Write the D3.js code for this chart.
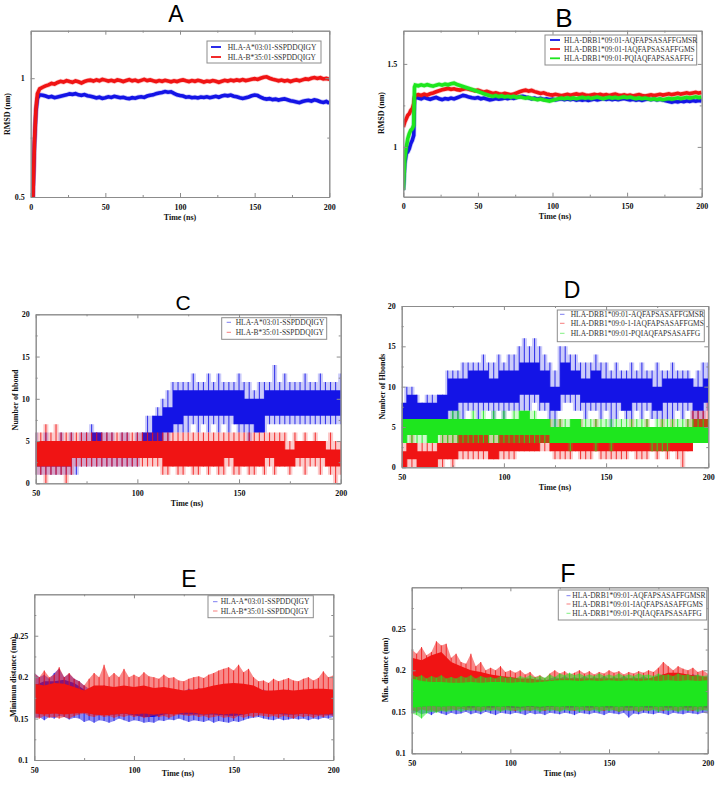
<!DOCTYPE html>
<html><head><meta charset="utf-8">
<script src="https://cdn.jsdelivr.net/npm/d3@7"></script>
<style>body{margin:0;background:#fff}svg{display:block}</style>
</head><body>
<svg id="c" width="717" height="786"></svg>
<script>
// ---------------- DATA ----------------
const panelTitles = ["A","B","C","D","E","F"];
const legendAE = ["HLA-A*03:01-SSPDDQIGY","HLA-B*35:01-SSPDDQIGY"];
const legendB = ["HLA-DRB1*09:01-AQFAPSASAFFGMSR","HLA-DRB1*09:01-IAQFAPSASAFFGMS","HLA-DRB1*09:01-PQIAQFAPSASAFFG"];
const legendD = ["HLA-DRB1*09:01-AQFAPSASAFFGMSR","HLA-DRB1*09:0-1-IAQFAPSASAFFGMS","HLA-DRB1*09:01-PQIAQFAPSASAFFG"];
const xLabel = "Time (ns)";
const yLabels = ["RMSD (nm)","RMSD (nm)","Number of hbond","Number of Hbonds","Minimun distance (nm)","Min. distance (nm)"];

const xTicksAB = [0,50,100,150,200], xMinorAB = [25,75,125,175];
const xTicksCF = [50,100,150,200], xMinorCF = [75,125,175];
const yTicksA = [0.5,1], yMinorA = [0.75];
const yTicksB = [1,1.5], yMinorB = [0.75,1.25];
const yTicksCD = [0,5,10,15,20], yMinorCD = [2.5,7.5,12.5,17.5];
const yTicksEF = [0.1,0.15,0.2,0.25], yMinorEF = [0.125,0.175,0.225,0.275];

// Panel A: RMSD (time ns)
const tA = [1.5,2.5,3.5,4.5,6,8,10,12,14,16,18,20,22,24,26,28,30,32,34,36,38,40,42,44,46,48,50,52,54,56,58,60,62,64,66,68,70,72,74,76,78,80,82,84,86,88,90,92,94,96,98,100,102,104,106,108,110,112,114,116,118,120,122,124,126,128,130,132,134,136,138,140,142,144,146,148,150,152,154,156,158,160,162,164,166,168,170,172,174,176,178,180,182,184,186,188,190,192,194,196,198,200];
const blueA = [0.5,0.72,0.86,0.915,
 .93,.928,.925,.92,.923,.918,.921,.924,.927,.93,
 .934,.932,.935,.93,.928,.931,.926,.924,.921,.917,
 .92,.915,.918,.922,.919,.924,.921,.918,.92,.916,
 .914,.918,.916,.92,.922,.919,.925,.928,.93,.935,
 .938,.94,.944,.941,.943,.936,.93,.927,.925,.92,
 .922,.918,.92,.917,.921,.919,.922,.918,.921,.924,
 .92,.925,.928,.926,.929,.924,.922,.918,.915,.918,
 .921,.926,.929,.927,.92,.915,.912,.914,.91,.912,
 .908,.911,.913,.909,.905,.903,.9,.897,.902,.905,
 .907,.904,.909,.906,.901,.898,.902,.895];
const redA = [0.5,0.73,0.87,0.935,
 .955,.962,.968,.972,.978,.975,.982,.987,.984,.99,
 .986,.983,.989,.985,.98,.986,.99,.992,.988,.993,
 .989,.995,.992,.988,.991,.987,.993,.99,.986,.99,
 .994,.989,.992,.987,.991,.995,.99,.993,.989,.986,
 .99,.987,.991,.988,.985,.989,.986,.99,.993,.989,
 .986,.99,.987,.991,.988,.984,.988,.986,.99,.987,
 .983,.987,.991,.988,.992,.989,.993,.99,.994,.99,
 .993,.996,.998,.995,1.0,1.004,1.006,1.0,.996,.993,
 .989,.992,.988,.991,.986,.99,.993,.989,.993,.997,
 .995,1.0,1.003,.999,1.002,.997,.999,.996];

// Panel B: RMSD
const tB = [0,1,2,3,4,5,6,7,7.5,8,10,12,14,16,18,20,22,24,26,28,30,32,34,36,38,40,42,44,46,48,50,52,54,56,58,60,62,64,66,68,70,72,74,76,78,80,82,84,86,88,90,92,94,96,98,100,102,104,106,108,110,112,114,116,118,120,122,124,126,128,130,132,134,136,138,140,142,144,146,148,150,152,154,156,158,160,162,164,166,168,170,172,174,176,178,180,182,184,186,188,190,192,194,196,198,200];
const blueB = [.74,.9,.96,.97,.99,1.02,1.04,1.07,1.29,
 1.3,1.295,1.29,1.298,1.292,1.287,1.293,1.298,1.29,1.285,
 1.291,1.288,1.294,1.289,1.296,1.303,1.31,1.306,1.3,1.296,
 1.293,1.297,1.29,1.294,1.288,1.283,1.287,1.292,1.288,1.29,
 1.295,1.291,1.296,1.292,1.298,1.302,1.305,1.3,1.296,1.29,
 1.294,1.288,1.292,1.286,1.29,1.284,1.288,1.283,1.287,1.29,
 1.285,1.289,1.284,1.288,1.282,1.286,1.281,1.285,1.28,1.284,
 1.288,1.283,1.287,1.291,1.286,1.29,1.285,1.289,1.284,1.288,
 1.292,1.287,1.283,1.287,1.282,1.286,1.28,1.285,1.289,1.284,
 1.288,1.283,1.287,1.282,1.278,1.274,1.27,1.275,1.271,1.276,
 1.272,1.278,1.274,1.279,1.275,1.28,1.277];
const redB = [1.12,1.15,1.17,1.19,1.2,1.22,1.23,1.26,1.3,
 1.31,1.315,1.31,1.318,1.312,1.32,1.325,1.332,1.338,1.344,
 1.348,1.352,1.347,1.35,1.345,1.342,1.348,1.352,1.347,1.343,
 1.338,1.342,1.336,1.33,1.334,1.328,1.322,1.326,1.32,1.317,
 1.322,1.318,1.314,1.318,1.325,1.332,1.338,1.342,1.336,1.34,
 1.333,1.328,1.322,1.326,1.319,1.315,1.312,1.317,1.313,1.308,
 1.312,1.316,1.311,1.315,1.319,1.314,1.318,1.313,1.309,1.313,
 1.317,1.312,1.316,1.311,1.315,1.31,1.314,1.318,1.313,1.309,
 1.313,1.308,1.312,1.307,1.311,1.315,1.31,1.306,1.31,1.314,
 1.309,1.313,1.317,1.312,1.316,1.32,1.315,1.319,1.323,1.318,
 1.322,1.326,1.321,1.325,1.329,1.324,1.328];
const greenB = [.74,.93,1.0,1.05,1.08,1.1,1.11,1.13,1.36,
 1.372,1.368,1.374,1.369,1.375,1.37,1.366,1.372,1.377,1.372,
 1.378,1.374,1.38,1.384,1.376,1.37,1.364,1.358,1.352,1.346,
 1.34,1.334,1.327,1.32,1.314,1.308,1.304,1.309,1.303,1.307,
 1.301,1.305,1.3,1.304,1.298,1.302,1.297,1.293,1.297,1.291,
 1.288,1.284,1.288,1.283,1.279,1.276,1.281,1.286,1.29,1.294,
 1.29,1.295,1.291,1.295,1.29,1.294,1.298,1.293,1.297,1.292,
 1.296,1.3,1.295,1.291,1.295,1.299,1.294,1.298,1.293,1.297,
 1.301,1.296,1.3,1.295,1.291,1.295,1.29,1.294,1.29,1.286,
 1.29,1.285,1.289,1.284,1.288,1.292,1.288,1.292,1.296,1.291,
 1.295,1.299,1.294,1.298,1.302,1.297,1.3];

// Panels C-F: [low, high] of the dense band (core, every 5 ns) and of the outer spikes (every 2.5 ns)
const tCore = [50,55,60,65,70,75,80,85,90,95,100,105,110,115,120,125,130,135,140,145,150,155,160,165,170,175,180,185,190,195,200];
const tSpike = [50,52.5,55,57.5,60,62.5,65,67.5,70,72.5,75,77.5,80,82.5,85,87.5,90,92.5,95,97.5,100,102.5,105,107.5,110,112.5,115,117.5,120,122.5,125,127.5,130,132.5,135,137.5,140,142.5,145,147.5,150,152.5,155,157.5,160,162.5,165,167.5,170,172.5,175,177.5,180,182.5,185,187.5,190,192.5,195,197.5,200];

// C: H-bonds
const cBlueCore = [[2,5],[2,5],[2,4],[2,4],[3,5],[3,5],[3,6],[3,5],[3,5],[3,5],[3,5],
 [4,6],[5,8],[6,9],[7,11],[8,11],[8,11],[8,11],[8,11],[8,11],[7,11],
 [7,10],[6,10],[8,11],[8,11],[8,11],[8,11],[8,11],[8,11],[8,11],[8,11]];
const cBlueSpike = [[1,6],[1,5],[1,6],[1,5],[1,5],[1,6],[1,5],[1,6],[1,5],[2,6],
 [2,6],[2,7],[2,6],[2,6],[2,6],[2,6],[2,5],[2,6],[2,6],[2,5],
 [2,6],[3,6],[3,8],[4,8],[4,9],[5,10],[5,11],[6,12],[6,12],[6,12],
 [6,12],[7,13],[6,12],[7,12],[6,13],[7,12],[6,13],[7,12],[6,12],[7,12],
 [6,13],[6,12],[5,12],[6,11],[6,12],[6,12],[7,12],[7,14],[7,12],[7,13],
 [7,12],[7,12],[7,12],[7,13],[7,12],[7,12],[7,13],[7,12],[7,12],[7,12],
 [7,13]];
const cRedCore = [[2,5],[2,5],[2,5],[2,5],[3,5],[3,5],[3,5],[3,5],[3,5],[3,5],[3,5],
 [3,5],[3,5],[2,5],[2,5],[2,5],[2,5],[2,5],[2,5],[3,5],[2,5],
 [2,5],[2,5],[3,5],[2,5],[2,4],[3,5],[3,5],[3,5],[2,4],[2,4]];
const cRedSpike = [[1,6],[1,6],[0,7],[1,6],[1,7],[1,6],[0,6],[1,6],[2,6],[2,6],
 [2,6],[2,6],[2,6],[2,6],[2,6],[2,6],[2,6],[2,6],[2,6],[2,6],
 [2,6],[2,6],[2,6],[2,6],[2,6],[1,6],[1,6],[2,6],[1,6],[1,6],
 [2,6],[1,6],[1,6],[2,6],[1,6],[2,6],[1,6],[1,6],[2,6],[1,6],
 [1,6],[2,6],[1,6],[1,6],[2,6],[1,6],[2,6],[1,6],[2,6],[2,6],
 [1,5],[2,6],[2,5],[1,6],[2,5],[2,6],[1,5],[2,5],[1,6],[0,5],
 [1,5]];

// D: H-bonds
const dBlueCore = [[6,8],[6,9],[6,8],[6,8],[6,9],[7,11],[8,11],[8,12],[8,12],[8,11],[8,12],
 [8,12],[9,13],[9,13],[8,12],[7,10],[9,13],[9,12],[8,11],[8,12],[8,11],
 [8,11],[7,11],[8,11],[8,11],[7,10],[8,11],[8,11],[8,11],[7,10],[8,11]];
const dBlueSpike = [[3,8],[4,10],[5,10],[5,9],[4,8],[5,9],[4,9],[5,9],[4,9],[5,12],
 [6,12],[6,12],[6,13],[7,13],[7,13],[6,13],[7,14],[7,13],[6,13],[7,14],
 [6,13],[7,14],[7,14],[7,15],[7,16],[7,15],[8,16],[7,15],[7,14],[6,13],
 [5,12],[7,15],[8,15],[8,14],[7,14],[7,13],[6,13],[7,13],[7,14],[6,13],
 [7,13],[5,12],[6,13],[7,12],[6,12],[6,13],[7,12],[6,13],[7,12],[6,12],
 [6,13],[6,12],[6,12],[6,13],[7,12],[6,12],[7,12],[6,11],[6,12],[6,13],
 [7,13]];
const dRedCore = [[0,2],[1,3],[0,2],[0,2],[1,3],[1,3],[2,4],[2,4],[2,4],[1,3],[2,4],
 [2,4],[2,4],[2,5],[3,5],[2,4],[2,4],[2,4],[2,4],[2,4],[2,4],
 [2,4],[2,4],[2,4],[2,4],[2,4],[2,4],[2,4],[2,5],[4,6],[4,6]];
const dRedSpike = [[0,3],[0,3],[0,4],[0,3],[0,3],[0,3],[0,3],[0,3],[0,4],[1,4],
 [0,4],[1,5],[1,5],[1,5],[1,5],[1,5],[1,5],[1,5],[1,5],[1,5],
 [1,5],[1,6],[1,6],[2,6],[2,6],[2,6],[2,6],[2,6],[2,6],[2,6],
 [1,5],[1,6],[1,5],[1,5],[2,5],[1,6],[1,5],[1,5],[2,6],[1,5],
 [1,5],[1,5],[1,5],[1,5],[1,5],[2,6],[1,5],[1,5],[1,6],[2,5],
 [1,5],[2,6],[1,5],[2,6],[1,5],[0,5],[2,6],[3,7],[4,7],[4,7],
 [4,8]];
const dGreenCore = [[3,6],[4,6],[4,6],[3,6],[4,6],[4,6],[4,6],[4,6],[4,6],[4,6],[4,6],
 [4,6],[4,7],[4,6],[4,6],[3,5],[3,5],[3,6],[3,5],[3,5],[3,5],
 [3,5],[3,5],[3,5],[3,5],[3,5],[3,5],[3,5],[3,5],[3,5],[3,5]];
const dGreenSpike = [[3,6],[3,6],[3,6],[3,6],[3,6],[3,6],[3,6],[3,6],[3,6],[3,6],
 [3,7],[3,7],[3,6],[3,6],[3,7],[3,6],[3,7],[3,6],[3,7],[3,6],
 [3,7],[3,6],[3,7],[3,7],[3,7],[3,7],[3,7],[3,6],[3,6],[3,6],
 [3,6],[3,6],[3,6],[2,6],[3,6],[3,6],[3,6],[3,6],[2,6],[3,6],
 [3,6],[2,6],[3,6],[3,6],[3,6],[3,6],[3,6],[3,6],[3,6],[2,5],
 [2,6],[2,6],[2,6],[3,6],[3,6],[3,6],[3,6],[3,6],[3,6],[3,6],
 [3,6]];

// E: minimum distance
const eBlueCore = [[.158,.19],[.16,.195],[.16,.195],[.162,.197],[.16,.193],[.158,.185],[.155,.18],[.155,.18],[.155,.182],[.156,.18],[.154,.18],
 [.152,.18],[.152,.178],[.155,.18],[.156,.178],[.155,.176],[.155,.178],[.155,.18],[.155,.182],[.154,.182],[.153,.18],
 [.155,.182],[.158,.18],[.158,.178],[.156,.176],[.155,.178],[.155,.178],[.156,.178],[.155,.178],[.155,.176],[.155,.177]];
const eBlueSpike = [[.15,.205],[.152,.2],[.148,.203],[.152,.198],[.15,.205],[.153,.21],[.152,.2],[.149,.204],[.151,.198],[.15,.195],
 [.146,.19],[.148,.186],[.145,.188],[.148,.185],[.147,.19],[.145,.186],[.147,.188],[.15,.184],[.148,.187],[.146,.185],
 [.148,.188],[.147,.184],[.145,.186],[.146,.183],[.145,.185],[.148,.182],[.147,.185],[.149,.183],[.148,.184],[.15,.181],
 [.148,.183],[.146,.186],[.148,.184],[.147,.187],[.146,.185],[.148,.188],[.145,.186],[.147,.189],[.146,.187],[.145,.19],
 [.147,.188],[.146,.186],[.148,.19],[.15,.187],[.151,.185],[.152,.183],[.15,.185],[.149,.182],[.148,.184],[.15,.181],
 [.148,.183],[.149,.185],[.15,.182],[.149,.184],[.15,.181],[.148,.183],[.15,.182],[.149,.185],[.151,.182],[.15,.184],
 [.152,.183]];
const eRedCore = [[.156,.192],[.155,.19],[.156,.193],[.155,.192],[.156,.188],[.157,.184],[.155,.19],[.154,.19],[.155,.188],[.156,.19],[.155,.188],
 [.156,.19],[.155,.187],[.156,.188],[.155,.186],[.157,.184],[.157,.185],[.155,.187],[.156,.19],[.155,.192],[.156,.193],
 [.155,.192],[.157,.19],[.156,.184],[.155,.184],[.156,.185],[.155,.184],[.156,.185],[.155,.186],[.155,.186],[.156,.185]];
const eRedSpike = [[.152,.205],[.15,.2],[.153,.208],[.151,.2],[.152,.203],[.15,.212],[.152,.2],[.15,.205],[.153,.198],[.155,.195],
 [.156,.19],[.153,.198],[.152,.205],[.154,.2],[.152,.215],[.153,.2],[.151,.205],[.153,.2],[.152,.21],[.154,.2],
 [.152,.203],[.153,.2],[.151,.206],[.152,.201],[.154,.2],[.152,.198],[.153,.203],[.151,.199],[.153,.2],[.155,.196],
 [.154,.195],[.153,.198],[.154,.2],[.152,.201],[.153,.199],[.151,.203],[.152,.205],[.153,.208],[.151,.21],[.152,.212],
 [.15,.208],[.153,.215],[.151,.206],[.153,.21],[.152,.2],[.154,.195],[.153,.196],[.152,.193],[.153,.198],[.151,.195],
 [.153,.197],[.152,.199],[.15,.196],[.153,.195],[.152,.198],[.153,.2],[.151,.196],[.153,.199],[.152,.207],[.154,.2],
 [.153,.202]];

// F: minimum distance
const fBlueCore = [[.157,.185],[.156,.184],[.157,.185],[.156,.183],[.157,.184],[.156,.183],[.155,.182],[.156,.183],[.155,.182],[.156,.183],[.155,.182],
 [.155,.181],[.156,.182],[.155,.181],[.156,.183],[.156,.182],[.155,.183],[.156,.182],[.155,.183],[.156,.182],[.155,.183],
 [.156,.182],[.155,.183],[.156,.184],[.155,.183],[.156,.184],[.155,.185],[.156,.184],[.155,.185],[.156,.184],[.155,.184]];
const fBlueSpike = [[.148,.19],[.15,.188],[.147,.19],[.149,.187],[.146,.19],[.15,.188],[.148,.19],[.146,.187],[.149,.189],[.147,.186],
 [.148,.188],[.15,.186],[.147,.189],[.149,.187],[.147,.188],[.15,.186],[.148,.189],[.146,.187],[.149,.19],[.148,.188],
 [.147,.19],[.149,.187],[.148,.189],[.146,.187],[.149,.19],[.147,.188],[.148,.19],[.146,.187],[.149,.19],[.148,.192],
 [.147,.19],[.149,.193],[.148,.19],[.146,.192],[.149,.19],[.148,.193],[.147,.19],[.149,.192],[.148,.19],[.146,.193],
 [.149,.19],[.148,.192],[.147,.19],[.149,.193],[.143,.19],[.148,.192],[.147,.19],[.149,.193],[.148,.19],[.147,.192],
 [.149,.194],[.148,.195],[.146,.193],[.149,.196],[.148,.194],[.147,.195],[.149,.193],[.148,.195],[.147,.194],[.149,.192],
 [.148,.193]];
const fRedCore = [[.165,.215],[.166,.212],[.165,.218],[.167,.222],[.165,.21],[.164,.205],[.165,.2],[.164,.198],[.163,.195],[.164,.193],[.163,.192],
 [.162,.19],[.163,.19],[.162,.188],[.162,.188],[.163,.19],[.162,.19],[.163,.19],[.162,.19],[.163,.19],[.162,.19],
 [.163,.19],[.162,.19],[.163,.19],[.162,.19],[.163,.193],[.164,.197],[.164,.197],[.163,.195],[.163,.193],[.162,.192]];
const fRedSpike = [[.152,.225],[.15,.22],[.153,.228],[.151,.218],[.152,.222],[.15,.235],[.152,.23],[.151,.232],[.153,.215],[.152,.22],
 [.154,.21],[.152,.208],[.153,.22],[.152,.205],[.151,.21],[.153,.2],[.152,.203],[.153,.2],[.151,.205],[.153,.198],
 [.152,.2],[.151,.197],[.153,.2],[.152,.195],[.151,.198],[.153,.192],[.152,.194],[.151,.19],[.153,.196],[.152,.2],
 [.151,.196],[.153,.199],[.152,.195],[.151,.197],[.153,.2],[.152,.196],[.151,.199],[.153,.195],[.152,.198],[.151,.196],
 [.153,.2],[.152,.197],[.15,.199],[.152,.195],[.151,.198],[.152,.196],[.15,.199],[.152,.197],[.151,.2],[.153,.198],
 [.152,.203],[.151,.21],[.153,.205],[.152,.2],[.151,.205],[.153,.202],[.152,.2],[.151,.203],[.153,.198],[.152,.2],
 [.153,.196]];
const fGreenCore = [[.155,.19],[.156,.187],[.157,.186],[.156,.186],[.157,.185],[.156,.185],[.157,.186],[.156,.185],[.157,.186],[.156,.186],[.157,.185],
 [.156,.186],[.157,.185],[.156,.186],[.157,.187],[.156,.188],[.157,.188],[.156,.187],[.157,.188],[.156,.187],[.157,.188],
 [.156,.187],[.157,.188],[.156,.187],[.157,.188],[.156,.187],[.157,.188],[.156,.187],[.157,.188],[.156,.187],[.157,.188]];
const fGreenSpike = [[.148,.195],[.146,.192],[.142,.194],[.148,.19],[.15,.193],[.149,.191],[.151,.194],[.15,.19],[.151,.192],[.152,.19],
 [.15,.193],[.152,.191],[.151,.194],[.152,.19],[.15,.193],[.152,.191],[.151,.192],[.152,.19],[.15,.193],[.152,.191],
 [.151,.192],[.152,.19],[.15,.193],[.152,.191],[.151,.194],[.152,.191],[.15,.193],[.152,.191],[.151,.195],[.152,.192],
 [.15,.196],[.152,.194],[.151,.197],[.152,.194],[.15,.196],[.152,.193],[.151,.195],[.152,.193],[.15,.196],[.152,.193],
 [.151,.195],[.152,.193],[.15,.196],[.152,.193],[.151,.195],[.152,.193],[.15,.196],[.152,.194],[.151,.195],[.152,.193],
 [.15,.196],[.152,.194],[.151,.195],[.152,.193],[.15,.196],[.152,.194],[.151,.195],[.152,.193],[.15,.195],[.152,.193],
 [.151,.194]];

// ---------------- STYLE / LAYOUT ----------------
const BLUE = "#1414e6", RED = "#f01414", GREEN = "#1ee61e";
const FRAME = "#8c8c8c";
const serif = "'Liberation Serif','Times New Roman',serif";
const sans = "'Liberation Sans',Arial,sans-serif";

const panels = [
 {title:panelTitles[0], tx:176, ty:21.5, ts:23, x0:30.7,x1:329.3,y0:30.7,y1:197, xd:[0,200], yd:[0.5,1.2],
  xt:xTicksAB, xm:xMinorAB, yt:yTicksA, ym:yMinorA, ylab:yLabels[0], xlx:180, xly:220, ylx:10, yly:114,
  kind:"line", series:[{t:tA,v:blueA,c:BLUE},{t:tA,v:redA,c:RED}],
  leg:{box:[207,41,114,22], ys:[47,57], sx:[211,221], tx:227.7, names:legendAE, cols:[BLUE,RED], bold:true}},
 {title:panelTitles[1], tx:564, ty:26.5, ts:26, x0:403.3,x1:701.7,y0:30.7,y1:196.7, xd:[0,200], yd:[0.7,1.7],
  xt:xTicksAB, xm:xMinorAB, yt:yTicksB, ym:yMinorB, ylab:yLabels[1], xlx:555, xly:219, ylx:383.5, yly:113,
  kind:"line", series:[{t:tB,v:blueB,c:BLUE},{t:tB,v:redB,c:RED},{t:tB,v:greenB,c:GREEN}],
  leg:{box:[545,35,151.7,30], ys:[40,49,58.3], sx:[550,560], tx:564, names:legendB, cols:[BLUE,RED,GREEN], bold:true}},
 {title:panelTitles[2], tx:183, ty:310, ts:21, x0:35.7,x1:340.7,y0:314.3,y1:483.3, xd:[50,200], yd:[0,20],
  xt:xTicksCF, xm:xMinorCF, yt:yTicksCD, ym:yMinorCD, ylab:yLabels[2], xlx:187, xly:505.5, ylx:17.8, yly:400,
  kind:"band", step:true, series:[{core:cBlueCore,spike:cBlueSpike,c:BLUE},{core:cRedCore,spike:cRedSpike,c:RED}],
  leg:{box:[221.7,317.7,105,21.6], ys:[322.3,332.3], sx:[226.7,231], tx:235.7, names:legendAE, cols:[BLUE,RED], bold:false}},
 {title:panelTitles[3], tx:572, ty:298, ts:23, x0:401.7,x1:708.3,y0:306,y1:467.3, xd:[50,200], yd:[0,20],
  xt:xTicksCF, xm:xMinorCF, yt:yTicksCD, ym:yMinorCD, ylab:yLabels[3], xlx:555, xly:489.5, ylx:384.5, yly:386.7,
  kind:"band", step:true, series:[{core:dBlueCore,spike:dBlueSpike,c:BLUE},{core:dRedCore,spike:dRedSpike,c:RED},{core:dGreenCore,spike:dGreenSpike,c:GREEN}],
  leg:{box:[557.3,310,147,31.7], ys:[314.3,323.3,333.3], sx:[560,564.5], tx:570.7, names:legendD, cols:[BLUE,RED,GREEN], bold:false}},
 {title:panelTitles[4], tx:189, ty:587, ts:23, x0:34.3,x1:333.3,y0:594.3,y1:760, xd:[50,200], yd:[0.1,0.3],
  xt:xTicksCF, xm:xMinorCF, yt:yTicksEF, ym:yMinorEF, ylab:yLabels[4], xlx:178, xly:776, ylx:16, yly:676.7,
  kind:"band", step:false, series:[{core:eBlueCore,spike:eBlueSpike,c:BLUE},{core:eRedCore,spike:eRedSpike,c:RED}],
  leg:{box:[208,595.7,105.3,22], ys:[601.7,611], sx:[213,217.5], tx:220.7, names:legendAE, cols:[BLUE,RED], bold:false}},
 {title:panelTitles[5], tx:568, ty:581.5, ts:25, x0:411.7,x1:707.7,y0:587.3,y1:753.3, xd:[50,200], yd:[0.1,0.3],
  xt:xTicksCF, xm:xMinorCF, yt:yTicksEF, ym:yMinorEF, ylab:yLabels[5], xlx:560, xly:775.5, ylx:387.8, yly:670,
  kind:"band", step:false, series:[{core:fBlueCore,spike:fBlueSpike,c:BLUE},{core:fRedCore,spike:fRedSpike,c:RED},{core:fGreenCore,spike:fGreenSpike,c:GREEN}],
  leg:{box:[558.3,590,148.4,30], ys:[595.7,604,613.3], sx:[566.5,570.5], tx:572.3, names:legendB, cols:[BLUE,RED,GREEN], bold:false}}
];

// ---------------- DRAW ----------------
const svg = d3.select("#c");
svg.append("rect").attr("width",717).attr("height",786).attr("fill","#fff");

panels.forEach((p, pi) => {
  const x = d3.scaleLinear().domain(p.xd).range([p.x0, p.x1]);
  const y = d3.scaleLinear().domain(p.yd).range([p.y1, p.y0]);
  const g = svg.append("g");
  const cid = "clip" + pi;
  svg.append("clipPath").attr("id", cid).append("rect")
    .attr("x", p.x0).attr("y", p.y0).attr("width", p.x1 - p.x0).attr("height", p.y1 - p.y0);
  const dg = g.append("g").attr("clip-path", `url(#${cid})`);

  if (p.kind === "line") {
    p.series.forEach(s => {
      const line = d3.line().defined(d => d != null).x((d, i) => x(s.t[i])).y(d => y(d));
      dg.append("path").datum(s.v).attr("d", line).attr("fill", "none")
        .attr("stroke", s.c).attr("stroke-width", 3.6).attr("stroke-linejoin", "miter");
      dg.append("path").datum(s.v).attr("d", line).attr("fill", "none")
        .attr("stroke", s.c).attr("stroke-width", 5).attr("stroke-opacity", 0.25);
    });
  } else {
    const curve = p.step ? d3.curveStep : d3.curveLinear;
    const areaOp = p.step ? 0.22 : 0.5;
    const lineOp = p.step ? 0.8 : 0.9;
    const lineW = p.step ? 1.1 : 0.9;
    p.series.forEach(s => {
      const sg = dg.append("g");
      const aS = d3.area().x((d, i) => x(tSpike[i])).y0(d => y(d[0])).y1(d => y(d[1])).curve(curve);
      sg.append("path").datum(s.spike).attr("d", aS).attr("fill", s.c).attr("fill-opacity", areaOp);
      // individual spikes drawn as thin vertical strokes
      sg.selectAll("line.sp").data(s.spike).join("line").attr("class", "sp")
        .attr("x1", (d, i) => x(tSpike[i])).attr("x2", (d, i) => x(tSpike[i]))
        .attr("y1", d => y(d[0])).attr("y2", d => y(d[1]))
        .attr("stroke", s.c).attr("stroke-width", lineW).attr("stroke-opacity", lineOp);
      const aC = d3.area().x((d, i) => x(tCore[i])).y0(d => y(d[0])).y1(d => y(d[1])).curve(curve);
      sg.append("path").datum(s.core).attr("d", aC).attr("fill", s.c);
    });
  }

  // axes (xmgrace style frame with inward ticks on all sides)
  const ax = g.append("g");
  const fmt = d => String(d);
  const mk = (axis, tr) => {
    const a = ax.append("g").attr("transform", tr).call(axis);
    a.select(".domain").attr("stroke", FRAME);
    a.selectAll(".tick line").attr("stroke", FRAME);
    a.selectAll("text").attr("font-family", serif).attr("font-size", 8).attr("font-weight", "bold").attr("fill", "#111");
    return a;
  };
  mk(d3.axisBottom(x).tickValues(p.xt).tickSize(-4).tickSizeOuter(0).tickPadding(7).tickFormat(fmt), `translate(0,${p.y1})`);
  mk(d3.axisBottom(x).tickValues(p.xm).tickSize(-2).tickSizeOuter(0).tickFormat(""), `translate(0,${p.y1})`);
  mk(d3.axisTop(x).tickValues(p.xt).tickSize(-4).tickSizeOuter(0).tickFormat(""), `translate(0,${p.y0})`);
  mk(d3.axisTop(x).tickValues(p.xm).tickSize(-2).tickSizeOuter(0).tickFormat(""), `translate(0,${p.y0})`);
  mk(d3.axisLeft(y).tickValues(p.yt).tickSize(-4).tickSizeOuter(0).tickPadding(6).tickFormat(fmt), `translate(${p.x0},0)`);
  mk(d3.axisLeft(y).tickValues(p.ym).tickSize(-2).tickSizeOuter(0).tickFormat(""), `translate(${p.x0},0)`);
  mk(d3.axisRight(y).tickValues(p.yt).tickSize(-4).tickSizeOuter(0).tickFormat(""), `translate(${p.x1},0)`);
  mk(d3.axisRight(y).tickValues(p.ym).tickSize(-2).tickSizeOuter(0).tickFormat(""), `translate(${p.x1},0)`);

  // axis labels
  g.append("text").attr("x", p.xlx).attr("y", p.xly).attr("text-anchor", "middle")
    .attr("font-family", serif).attr("font-size", 8).attr("font-weight", "bold").attr("fill", "#111").text(xLabel);
  g.append("text").attr("transform", `translate(${p.ylx},${p.yly}) rotate(-90)`).attr("text-anchor", "middle")
    .attr("font-family", serif).attr("font-size", 8).attr("font-weight", "bold").attr("fill", "#111").text(p.ylab);

  // title
  svg.append("text").attr("x", p.tx).attr("y", p.ty).attr("text-anchor", "middle")
    .attr("font-family", sans).attr("font-size", p.ts).attr("fill", "#000").text(p.title);

  // legend
  const L = p.leg;
  const lg = g.append("g");
  lg.append("rect").attr("x", L.box[0]).attr("y", L.box[1]).attr("width", L.box[2]).attr("height", L.box[3])
    .attr("fill", "#fff").attr("stroke", FRAME).attr("stroke-width", 1);
  L.names.forEach((n, i) => {
    lg.append("line").attr("x1", L.sx[0]).attr("x2", L.sx[1]).attr("y1", L.ys[i]).attr("y2", L.ys[i])
      .attr("stroke", L.cols[i]).attr("stroke-width", L.bold ? 1.8 : 1).attr("stroke-opacity", L.bold ? 1 : 0.55);
    lg.append("text").attr("x", L.tx).attr("y", L.ys[i]).attr("dy", "0.35em")
      .attr("font-family", serif).attr("font-size", 7.5).attr("fill", "#333").text(n);
  });
});
</script>
</body></html>
